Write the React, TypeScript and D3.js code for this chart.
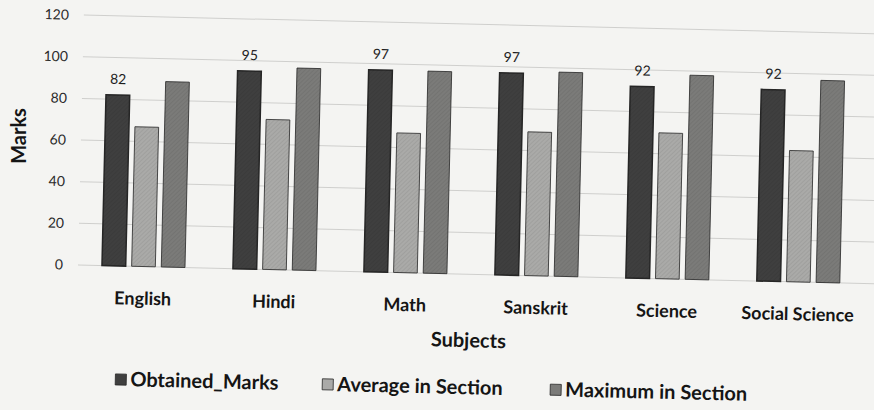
import React from "react";
import * as d3 from "d3";

const subjects = ["English", "Hindi", "Math", "Sanskrit", "Science", "Social Science"];
const seriesNames = ["Obtained_Marks", "Average in Section", "Maximum in Section"];
const obtained = [82, 95, 97, 97, 92, 92];
const average = [67, 72, 67, 69, 70, 63];
const maximum = [89, 97, 97, 98, 98, 97];
const yTicks = [0, 20, 40, 60, 80, 100, 120];

const colors = ["#3f3f3f", "#aaaaa8", "#7b7b79"];
const font = "Lato, 'DejaVu Sans', sans-serif";

export default function App() {
  const width = 874;
  const height = 410;
  const left = 78;
  const right = 864;
  const top = 15;
  const bottom = 265;

  const values = [obtained, average, maximum];

  const x = d3.scaleBand().domain(subjects).range([left, right]).paddingInner(0.366).paddingOuter(0.183);
  const inner = d3.scaleBand().domain(seriesNames).range([0, x.bandwidth()]).paddingInner(0.2);
  const y = d3.scaleLinear().domain([0, 120]).range([bottom, top]);

  // photo is tilted a little, so turn everything round the left end of the baseline
  const tilt = `rotate(1.35 ${left} ${bottom})`;

  const legendX = [118, 325, 553];

  return (
    <svg width={width} height={height} style={{ position: "fixed", left: 0, top: 0 }}>
      <defs>
        <pattern id="hatch" width="3" height="3" patternUnits="userSpaceOnUse" patternTransform="rotate(45)">
          <line x1="0" y1="0" x2="0" y2="3" stroke="#000" strokeOpacity="0.12" strokeWidth="1" />
        </pattern>
      </defs>
      <rect width={width} height={height} fill="#f4f4f2" />
      <g transform={tilt}>
        {yTicks.map((t) => (
          <g key={t}>
            <line x1={left} x2={width + 20} y1={y(t)} y2={y(t)} stroke="#cfcfcd" strokeWidth={1} />
            <text x={63} y={y(t)} dy="0.35em" textAnchor="end" fontFamily={font} fontSize={14} fill="#2a2a2a">
              {t}
            </text>
          </g>
        ))}

        {subjects.map((s, i) => (
          <g key={s} transform={`translate(${x(s)},0)`}>
            {seriesNames.map((n, k) => (
              <g key={n}>
                <rect
                  x={inner(n)}
                  y={y(values[k][i])}
                  width={inner.bandwidth()}
                  height={bottom - y(values[k][i])}
                  fill={colors[k]}
                  stroke="#262626"
                  strokeWidth={k === 0 ? 1.5 : 0.8}
                />
                <rect
                  x={inner(n)}
                  y={y(values[k][i])}
                  width={inner.bandwidth()}
                  height={bottom - y(values[k][i])}
                  fill="url(#hatch)"
                />
              </g>
            ))}
            <text
              x={(inner(seriesNames[0]) || 0) + inner.bandwidth() / 2}
              y={y(obtained[i]) - 11}
              textAnchor="middle"
              fontFamily={font}
              fontSize={14}
              fill="#1e1e1e"
            >
              {obtained[i]}
            </text>
            <text
              x={x.bandwidth() / 2}
              y={bottom + 32}
              dy="0.35em"
              textAnchor="middle"
              fontFamily={font}
              fontWeight="bold"
              fontSize={18}
              fill="#151515"
            >
              {s}
            </text>
          </g>
        ))}

        <text x={470} y={331} dy="0.35em" textAnchor="middle" fontFamily={font} fontWeight="bold" fontSize={20} fill="#151515">
          Subjects
        </text>

        {seriesNames.map((n, k) => (
          <g key={n} transform={`translate(${legendX[k]},378)`}>
            <rect x={0} y={-5} width={11} height={11} fill={colors[k]} stroke="#262626" strokeWidth={0.8} />
            <text x={15} y={0} dy="0.35em" fontFamily={font} fontWeight="bold" fontSize={20} fill="#151515">
              {n}
            </text>
          </g>
        ))}
      </g>

      <text
        transform="translate(19,136) rotate(-90)"
        textAnchor="middle"
        dy="0.35em"
        fontFamily={font}
        fontWeight="bold"
        fontSize={20}
        fill="#151515"
      >
        Marks
      </text>
    </svg>
  );
}
